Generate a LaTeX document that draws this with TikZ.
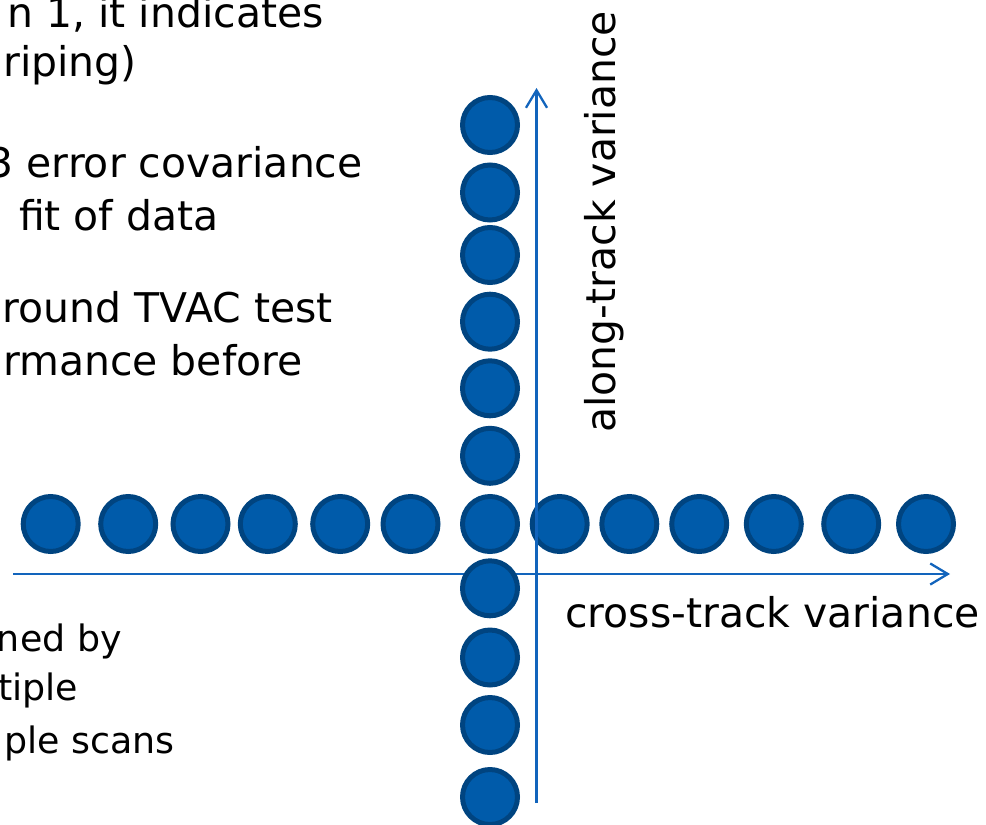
\documentclass[tikz,border=0pt]{standalone}
\usepackage{fontspec}
\setmainfont{DejaVu Sans}
\usetikzlibrary{arrows.meta}
\definecolor{dotblue}{RGB}{0,91,170}
\definecolor{dotedge}{RGB}{0,68,128}
\definecolor{axisblue}{RGB}{18,100,188}
\begin{document}
\begin{tikzpicture}[x=0.02cm, y=-0.02cm,
    dot/.style={draw=dotedge, fill=dotblue, circle, line width=0.1cm, minimum size=1.1cm, inner sep=0pt},
    axis/.style={draw=axisblue, line width=1.3pt, -{Straight Barb[length=10pt, width=12pt]}},
    big/.style={inner sep=0pt, font=\fontsize{23.3}{28}\selectfont},
    small/.style={inner sep=0pt, font=\fontsize{20.7}{25}\selectfont}]
    \useasboundingbox (0,0) rectangle (986,824);
    \clip (0,0) rectangle (986,824);
    \node (t1) [big, anchor=base east] at (324,28) {n 1, it indicates};
    \node (t2) [big, anchor=base east] at (137,77) {riping)};
    \node (t3) [big, anchor=base east] at (363,177) {3 error covariance};
    \node (t4) [big, anchor=base east] at (219,230) {fit of data};
    \node (t5) [big, anchor=base east] at (333,322) {round TVAC test};
    \node (t6) [big, anchor=base east] at (303,375) {rmance before};
    \node (b1) [small, anchor=base east] at (122,651) {ned by};
    \node (b2) [small, anchor=base west] at (-2,700) {tiple};
    \node (b3) [small, anchor=base east] at (175,753) {ple scans};
    \coordinate (xs) at (13,574);
    \coordinate (xe) at (950,574);
    \coordinate (ys) at (536.5,803);
    \coordinate (ye) at (536.5,88);
    \draw[axis] (xs) -- (xe);
    \foreach \y [count=\i] in {125,192.5,255,321.7,388.3,455.8,524,588.3,657.5,725,797}
        \node (v\i) [dot] at (490,\y) {};
    \foreach \x [count=\i] in {50.7,128.2,200.5,267.8,340.2,410.5,559.7,629.3,699.2,773.8,851.2,926}
        \node (h\i) [dot] at (\x,524) {};
    \draw[axis] (ys) -- (ye);
    \node (xlab) [big, anchor=base west] at (565,627) {cross-track variance};
    \node (ylab) [big, anchor=base west, rotate=90] at (615,433) {along-track variance};
\end{tikzpicture}
\end{document}
